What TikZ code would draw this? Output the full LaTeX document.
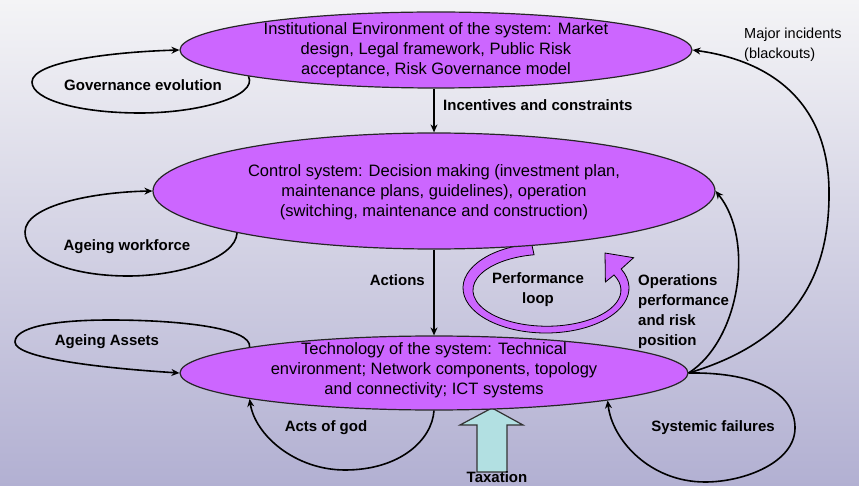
\documentclass[tikz,border=0pt]{standalone}
\usepackage{fontspec}
\setmainfont{Liberation Sans}
\usetikzlibrary{shapes.geometric,arrows.meta}
\definecolor{ellfill}{RGB}{204,102,255}
\definecolor{bgtop}{RGB}{244,244,246}
\definecolor{bgbot}{RGB}{178,176,210}
\definecolor{taxfill}{RGB}{178,224,226}
\tikzset{
  bigell/.style={ellipse, draw=black!85, line width=1.2pt, fill=ellfill, inner sep=0pt},
  etext/.style={align=center, inner sep=0pt, font=\fontsize{16.5}{20}\selectfont},
  blab/.style={align=center, inner sep=0pt, font=\bfseries\fontsize{15}{20}\selectfont},
  nlab/.style={align=left, inner sep=0pt, font=\fontsize{14.5}{20}\selectfont},
  conn/.style={line width=1.6pt, draw=black},
  arr/.style={-{Stealth[length=8pt,width=7pt]}},
  rarr/.style={{Stealth[length=8pt,width=7pt]}-},
  band/.style={fill=ellfill, draw=black, line width=0.8pt},
  taxarrow/.style={fill=taxfill, draw=black!80, line width=1.2pt}
}
\begin{document}
\begin{tikzpicture}[x=1pt,y=-1pt]
\useasboundingbox (0,0) rectangle (859,486);
\shade[top color=bgtop, bottom color=bgbot] (0,0) rectangle (859,486);

% performance loop: a broad curved arrow under the control system
\filldraw[band] (546,288) ++(100:83pt and 45pt)
  arc[start angle=100, end angle=385, x radius=83pt, y radius=45pt]
  -- (633.6,257.7) -- (605.0,253.0) -- (605.4,282.0) -- (614.0,275.0)
  arc[start angle=385, end angle=100, x radius=74pt, y radius=36pt] -- cycle;

% external input from below
\filldraw[taxarrow] (477,472) -- (477,425) -- (460,425) -- (492,408)
  -- (523,425) -- (507,425) -- (507,472) -- cycle;

% the three layers of the system
\node[bigell, minimum width=512pt, minimum height=76pt] (inst) at (436,50) {};
\node[bigell, minimum width=562pt, minimum height=116pt] (ctrl) at (434,191) {};
\node[bigell, minimum width=508pt, minimum height=74pt] (tech) at (434,373) {};

\node[etext] (insttxt) at (436,50) {Institutional Environment of the system: Market\\design, Legal framework, Public Risk\\acceptance, Risk Governance model};
\node[etext] (ctrltxt) at (434,192) {Control system: Decision making (investment plan,\\maintenance plans, guidelines), operation\\(switching, maintenance and construction)};
\node[etext] (techtxt) at (434,370) {Technology of the system: Technical\\environment; Network components, topology\\and connectivity; ICT systems};

% labels
\node[blab] (gov) at (143,85) {Governance evolution};
\node[blab] (work) at (127,247) {Ageing workforce};
\node[blab] (assets) at (107,342) {Ageing Assets};
\node[blab] (god) at (326,428) {Acts of god};
\node[blab] (sysf) at (713,428) {Systemic failures};
\node[blab, anchor=west] (incent) at (443,105) {Incentives and constraints};
\node[blab, anchor=east] (act) at (425,280) {Actions};
\node[blab] (perf) at (538,290) {Performance\\loop};
\node[blab, align=left, anchor=north west] (oper) at (638,274) {Operations\\performance\\and risk\\position};
\node[nlab, anchor=north west] (major) at (744,28) {Major incidents\\(blackouts)};
\node[blab, anchor=base] (tax) at (497,482) {Taxation};

% influence loops
\draw[conn, arr] (inst.188) .. controls (258,96) and (200,113) .. (140,113)
  .. controls (80,113) and (32,100) .. (32,82)
  .. controls (32,62) and (110,52) .. (inst.west);
\draw[conn, arr] (ctrl.192) .. controls (236,258) and (180,276) .. (128,276)
  .. controls (70,276) and (25,258) .. (25,232)
  .. controls (25,205) and (95,192) .. (ctrl.west);
\draw[conn, arr] (tech.172) .. controls (252,328) and (180,320) .. (110,320)
  .. controls (50,320) and (15,328) .. (15,342)
  .. controls (15,358) and (100,368) .. (tech.west);
\draw[conn, rarr] (tech.188) .. controls (255,435) and (295,470) .. (345,470)
  .. controls (400,470) and (432,440) .. (tech.south);
\draw[conn, arr] (tech.east) .. controls (760,372) and (795,395) .. (795,428)
  .. controls (795,462) and (745,482) .. (705,482)
  .. controls (650,482) and (612,440) .. (tech.351);

% feedback from the technical layer
\draw[conn, arr] (tech.east) .. controls (800,340) and (830,270) .. (829,190)
  .. controls (828,110) and (780,62) .. (inst.east);
\draw[conn, arr] (tech.east) .. controls (740,340) and (755,240) .. (ctrl.east);

% top-down influence
\draw[conn, arr] (ctrl.north |- inst.south) -- (ctrl.north);
\draw[conn, arr] (ctrl.south) -- (tech.north);
\end{tikzpicture}
\end{document}
